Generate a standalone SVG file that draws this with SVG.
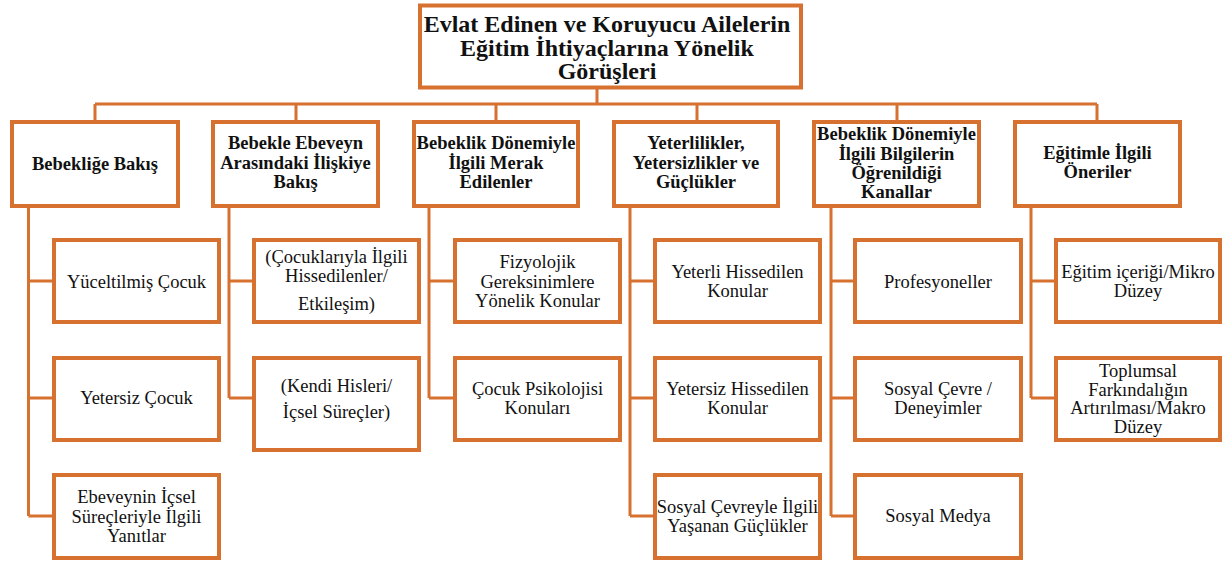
<svg xmlns="http://www.w3.org/2000/svg" width="1223" height="562" viewBox="0 0 1223 562">
<style>
.box{fill:#ffffff;stroke:#D7712F;stroke-width:4}
.ln{fill:none;stroke:#D7712F;stroke-width:3}
.t0{font-family:"Liberation Serif","Times New Roman",serif;font-size:24px;font-weight:bold;fill:#111;text-anchor:middle}
.t1{font-family:"Liberation Serif","Times New Roman",serif;font-size:18.5px;font-weight:bold;fill:#111;text-anchor:middle}
.t2{font-family:"Liberation Serif","Times New Roman",serif;font-size:18.5px;fill:#111;text-anchor:middle}
</style>
<rect width="1223" height="562" fill="#ffffff"/>
<g id="connectors">
<path class="ln" d="M597 89V104M95 104H1097M95 104V120M296 104V120M496 104V120M697 104V120M897 104V120M1097 104V120"/>
<path class="ln" d="M28.5 208V516M28.5 281H52M28.5 398H52M28.5 516H52"/>
<path class="ln" d="M229 208V398M229 281H252M229 398H252"/>
<path class="ln" d="M429 208V398M429 281H453M429 398H453"/>
<path class="ln" d="M630 208V516M630 281H653M630 398H653M630 516H653"/>
<path class="ln" d="M831 208V516M831 281H853M831 398H853M831 516H853"/>
<path class="ln" d="M1031 208V398M1031 281H1054M1031 398H1054"/>
</g>
<g id="root">
<rect class="box" x="420" y="5.5" width="381" height="82"/>
<text class="t0" x="607" y="32">Evlat Edinen ve Koruyucu Ailelerin</text>
<text class="t0" x="607" y="55.5">Eğitim İhtiyaçlarına Yönelik</text>
<text class="t0" x="607" y="79">Görüşleri</text>
</g>
<g id="n1">
<rect class="box" x="12" y="122" width="166" height="84"/>
<text class="t1" x="95" y="170">Bebekliğe Bakış</text>
</g>
<g id="n2">
<rect class="box" x="213" y="122" width="165" height="84"/>
<text class="t1" x="295.5" y="149">Bebekle Ebeveyn</text>
<text class="t1" x="295.5" y="168.5">Arasındaki İlişkiye</text>
<text class="t1" x="295.5" y="188">Bakış</text>
</g>
<g id="n3">
<rect class="box" x="414" y="122" width="164" height="84"/>
<text class="t1" x="496" y="149">Bebeklik Dönemiyle</text>
<text class="t1" x="496" y="168.5">İlgili Merak</text>
<text class="t1" x="496" y="188">Edilenler</text>
</g>
<g id="n4">
<rect class="box" x="614" y="122" width="164" height="84"/>
<text class="t1" x="696" y="149">Yeterlilikler,</text>
<text class="t1" x="696" y="168.5">Yetersizlikler ve</text>
<text class="t1" x="696" y="188">Güçlükler</text>
</g>
<g id="n5">
<rect class="box" x="814" y="122" width="165" height="84"/>
<text class="t1" x="896.5" y="140">Bebeklik Dönemiyle</text>
<text class="t1" x="896.5" y="159.5">İlgili Bilgilerin</text>
<text class="t1" x="896.5" y="178.5">Öğrenildiği</text>
<text class="t1" x="896.5" y="197.5">Kanallar</text>
</g>
<g id="n6">
<rect class="box" x="1015" y="122" width="165" height="84"/>
<text class="t1" x="1097.5" y="159">Eğitimle İlgili</text>
<text class="t1" x="1097.5" y="178">Öneriler</text>
</g>
<g id="n1a">
<rect class="box" x="54" y="240" width="165" height="82"/>
<text class="t2" x="136.5" y="288">Yüceltilmiş Çocuk</text>
</g>
<g id="n1b">
<rect class="box" x="54" y="358" width="165" height="82"/>
<text class="t2" x="136.5" y="404">Yetersiz Çocuk</text>
</g>
<g id="n1c">
<rect class="box" x="54" y="475" width="165" height="83"/>
<text class="t2" x="136.5" y="503">Ebeveynin İçsel</text>
<text class="t2" x="136.5" y="522.5">Süreçleriyle İlgili</text>
<text class="t2" x="136.5" y="542">Yanıtlar</text>
</g>
<g id="n2a">
<rect class="box" x="254" y="240" width="165" height="82"/>
<text class="t2" x="336.5" y="263">(Çocuklarıyla İlgili</text>
<text class="t2" x="336.5" y="282">Hissedilenler/</text>
<text class="t2" x="336.5" y="310">Etkileşim)</text>
</g>
<g id="n2b">
<rect class="box" x="254" y="358" width="165" height="92"/>
<text class="t2" x="336.5" y="392">(Kendi Hisleri/</text>
<text class="t2" x="336.5" y="418">İçsel Süreçler)</text>
</g>
<g id="n3a">
<rect class="box" x="455" y="240" width="165" height="82"/>
<text class="t2" x="537.5" y="268">Fizyolojik</text>
<text class="t2" x="537.5" y="287.5">Gereksinimlere</text>
<text class="t2" x="537.5" y="307">Yönelik Konular</text>
</g>
<g id="n3b">
<rect class="box" x="455" y="358" width="165" height="82"/>
<text class="t2" x="537.5" y="395">Çocuk Psikolojisi</text>
<text class="t2" x="537.5" y="413.5">Konuları</text>
</g>
<g id="n4a">
<rect class="box" x="655" y="240" width="165" height="82"/>
<text class="t2" x="737.5" y="278">Yeterli Hissedilen</text>
<text class="t2" x="737.5" y="297">Konular</text>
</g>
<g id="n4b">
<rect class="box" x="655" y="358" width="165" height="82"/>
<text class="t2" x="737.5" y="395">Yetersiz Hissedilen</text>
<text class="t2" x="737.5" y="413.5">Konular</text>
</g>
<g id="n4c">
<rect class="box" x="655" y="475" width="165" height="83"/>
<text class="t2" x="737.5" y="513">Sosyal Çevreyle İlgili</text>
<text class="t2" x="737.5" y="532">Yaşanan Güçlükler</text>
</g>
<g id="n5a">
<rect class="box" x="855" y="240" width="166" height="82"/>
<text class="t2" x="938" y="288">Profesyoneller</text>
</g>
<g id="n5b">
<rect class="box" x="855" y="358" width="166" height="82"/>
<text class="t2" x="938" y="395">Sosyal Çevre /</text>
<text class="t2" x="938" y="414">Deneyimler</text>
</g>
<g id="n5c">
<rect class="box" x="855" y="475" width="166" height="83"/>
<text class="t2" x="938" y="522">Sosyal Medya</text>
</g>
<g id="n6a">
<rect class="box" x="1056" y="240" width="164" height="82"/>
<text class="t2" x="1138" y="278">Eğitim içeriği/Mikro</text>
<text class="t2" x="1138" y="297">Düzey</text>
</g>
<g id="n6b">
<rect class="box" x="1056" y="358" width="164" height="82"/>
<text class="t2" x="1138" y="377">Toplumsal</text>
<text class="t2" x="1138" y="395.5">Farkındalığın</text>
<text class="t2" x="1138" y="414">Artırılması/Makro</text>
<text class="t2" x="1138" y="433">Düzey</text>
</g>
</svg>
